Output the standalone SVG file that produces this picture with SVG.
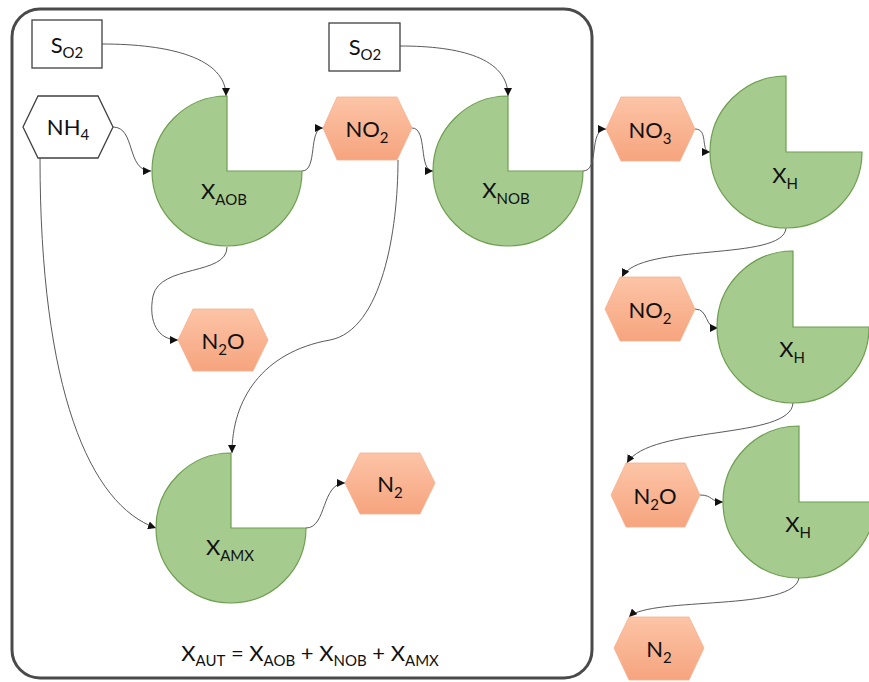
<svg xmlns="http://www.w3.org/2000/svg" width="869" height="682" viewBox="0 0 869 682">
<defs>
<linearGradient id="og" x1="0" y1="0" x2="0" y2="1">
<stop offset="0" stop-color="#FCC4A7"/>
<stop offset="1" stop-color="#F6A47E"/>
</linearGradient>
<marker id="ah" viewBox="0 0 10 10" refX="10" refY="5" markerWidth="8" markerHeight="8" markerUnits="userSpaceOnUse" orient="auto">
<path d="M0,0 L10,5 L0,10 Z" fill="#111"/>
</marker>
</defs>
<style>
.pie{fill:#A6CB8E;stroke:#6E9E50;stroke-width:1.2}
.hexo{fill:url(#og);stroke:#F6B08E;stroke-width:0.8}
.hexw{fill:#fff;stroke:#404040;stroke-width:1.3}
.box{fill:#fff;stroke:#404040;stroke-width:1.3}
.t{font-family:Lato,"Liberation Sans",sans-serif;font-size:22px;fill:#111}
.s{font-size:15px}
.c{fill:none;stroke:#5a5a5a;stroke-width:1;marker-end:url(#ah)}
</style>
<rect x="12" y="9" width="580" height="669" rx="28" fill="#fff" stroke="#4a4a4a" stroke-width="3"/>

<g id="connectors">
<path class="c" d="M102,44 C170,44 226,58 226,96"/>
<path class="c" d="M113,127 C136,127 126,171 151,171"/>
<path class="c" d="M302,171 C318,171 308,128 323,128"/>
<path class="c" d="M412,128 C428,128 418,171 433,171"/>
<path class="c" d="M400,46 C460,46 508,58 508,96"/>
<path class="c" d="M583,171 C600,171 588,129 606,129"/>
<path class="c" d="M695,129 C709,129 700,152 710,152"/>
<path class="c" d="M786,228 C784,262 640,242 622,277"/>
<path class="c" d="M695,309 C709,309 704,328 718,328"/>
<path class="c" d="M793,403 C791,440 650,425 627,463"/>
<path class="c" d="M700,495 C713,495 710,502 723,502"/>
<path class="c" d="M799,577 C797,612 650,596 629,617"/>
<path class="c" d="M227,247 C227,276 160,264 153,296 C148,322 158,340 178,340"/>
<path class="c" d="M398,160 C398,230 382,330 330,340 C262,352 232,400 232,453"/>
<path class="c" d="M40,158 C40,390 90,505 156,528"/>
<path class="c" d="M306,528 C327,528 321,483 345,483"/>
</g>

<g id="so2a"><rect class="box" x="32" y="20" width="70" height="48"/>
<text class="t" x="67" y="53" text-anchor="middle">S<tspan class="s" dy="5">O2</tspan></text></g>
<g id="so2b"><rect class="box" x="329" y="23" width="71" height="48"/>
<text class="t" x="365" y="55" text-anchor="middle">S<tspan class="s" dy="5">O2</tspan></text></g>

<g id="nh4"><polygon class="hexw" points="23,127 38,96 98,96 113,127 98,158 38,158"/>
<text class="t" x="68" y="135" text-anchor="middle">NH<tspan class="s" dy="5">4</tspan></text></g>

<g id="xaob"><path class="pie" d="M227,171 L227,96 A75,75 0 1 0 302,171 Z"/>
<text class="t" x="224" y="199" text-anchor="middle">X<tspan class="s" dy="6">AOB</tspan></text></g>
<g id="xnob"><path class="pie" d="M508,171 L508,96 A75,75 0 1 0 583,171 Z"/>
<text class="t" x="506" y="198" text-anchor="middle">X<tspan class="s" dy="6">NOB</tspan></text></g>
<g id="xamx"><path class="pie" d="M231,528 L231,453 A75,75 0 1 0 306,528 Z"/>
<text class="t" x="230" y="555" text-anchor="middle">X<tspan class="s" dy="6">AMX</tspan></text></g>
<g id="xh1"><path class="pie" d="M786,152 L786,76 A76,76 0 1 0 862,152 Z"/>
<text class="t" x="785" y="183" text-anchor="middle">X<tspan class="s" dy="6">H</tspan></text></g>
<g id="xh2"><path class="pie" d="M793,327 L793,251 A76,76 0 1 0 869,327 Z"/>
<text class="t" x="792" y="357" text-anchor="middle">X<tspan class="s" dy="6">H</tspan></text></g>
<g id="xh3"><path class="pie" d="M799,502 L799,426 A76,76 0 1 0 875,502 Z"/>
<text class="t" x="798" y="532" text-anchor="middle">X<tspan class="s" dy="6">H</tspan></text></g>

<g id="no2a"><polygon class="hexo" points="323,128 337,97 397,97 412,128 397,160 337,160"/>
<text class="t" x="367" y="137" text-anchor="middle">NO<tspan class="s" dy="6">2</tspan></text></g>
<g id="no3"><polygon class="hexo" points="606,129 621,97 680,97 695,129 680,161 621,161"/>
<text class="t" x="650" y="138" text-anchor="middle">NO<tspan class="s" dy="6">3</tspan></text></g>
<g id="no2b"><polygon class="hexo" points="605,309 620,277 680,277 695,309 680,341 620,341"/>
<text class="t" x="650" y="318" text-anchor="middle">NO<tspan class="s" dy="6">2</tspan></text></g>
<g id="n2ob"><polygon class="hexo" points="611,495 626,463 685,463 700,495 685,527 626,527"/>
<text class="t" x="655" y="504" text-anchor="middle">N<tspan class="s" dy="6">2</tspan><tspan dy="-6">O</tspan></text></g>
<g id="n2b"><polygon class="hexo" points="614,648 629,617 689,617 704,648 689,680 629,680"/>
<text class="t" x="659" y="657" text-anchor="middle">N<tspan class="s" dy="6">2</tspan></text></g>
<g id="n2oa"><polygon class="hexo" points="178,340 193,309 253,309 268,340 253,371 193,371"/>
<text class="t" x="223" y="349" text-anchor="middle">N<tspan class="s" dy="6">2</tspan><tspan dy="-6">O</tspan></text></g>
<g id="n2a"><polygon class="hexo" points="345,483 360,453 420,453 435,483 420,514 360,514"/>
<text class="t" x="390" y="492" text-anchor="middle">N<tspan class="s" dy="6">2</tspan></text></g>

<g id="formula"><text class="t" x="310" y="661" text-anchor="middle">X<tspan class="s" dy="5">AUT</tspan><tspan dy="-5"> = X</tspan><tspan class="s" dy="5">AOB</tspan><tspan dy="-5"> + X</tspan><tspan class="s" dy="5">NOB</tspan><tspan dy="-5"> + X</tspan><tspan class="s" dy="5">AMX</tspan></text></g>
</svg>
